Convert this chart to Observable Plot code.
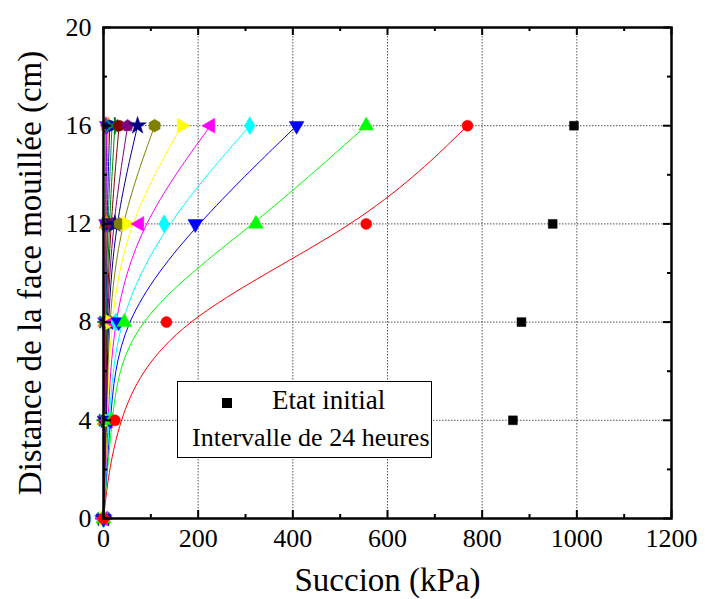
<!DOCTYPE html>
<html>
<head>
<meta charset="utf-8">
<script src="https://cdn.jsdelivr.net/npm/d3@7"></script>
<script src="https://cdn.jsdelivr.net/npm/@observablehq/plot@0.6"></script>
<style>
  html, body { margin: 0; padding: 0; background: #fff; }
  #wrap { position: relative; width: 705px; height: 599px; font-family: "Liberation Serif", "DejaVu Serif", serif; }
  #legend { position: absolute; left: 177px; top: 381px; width: 253px; height: 75px; border: 1.5px solid #000; background: #fff; }
  #legend .sq { position: absolute; left: 44px; top: 16px; width: 10px; height: 10px; background: #000; }
  #legend .t1 { position: absolute; left: 94px; top: 2px; font-size: 27px; line-height: 32px; white-space: nowrap; }
  #legend .t2 { position: absolute; left: 14px; top: 40px; font-size: 26px; line-height: 32px; white-space: nowrap; }
</style>
</head>
<body>
<div id="wrap"></div>
<script>
// ---- data ----
const depths = [0, 4, 8, 12, 16];            // cm
const initialDepths = [4, 8, 12, 16];
const initialState = [865, 883, 949, 994];    // kPa
// successive 24-hour intervals (suction in kPa at depths 0,4,8,12,16)
const day1  = [0, 24, 133, 555, 769];
const day2  = [0, 17, 44, 322, 555];
const day3  = [0, 14, 32, 194, 408];
const day4  = [0, 12, 26, 128, 309];
const day5  = [0, 10, 19, 76, 226];
const day6  = [0, 8, 14, 49, 165];
const day7  = [0, 7, 11, 34, 108];
const day8  = [0, 6, 9, 24, 72];
const day9  = [0, 5, 7, 19, 51];
const day10 = [0, 4, 6, 15, 33];
const day11 = [0, 3, 5, 12, 24];
const day12 = [0, 3, 4, 9, 18];
const day13 = [0, 2, 4, 7, 13];
const day14 = [0, 2, 3, 6, 10];
const day15 = [0, 2, 3, 5, 7];
const day16 = [0, 1, 2, 4, 5];
const seriesValues = [day1, day2, day3, day4, day5, day6, day7, day8, day9, day10, day11, day12, day13, day14, day15, day16];
const seriesColors = ["#FF0000", "#00FF00", "#0000FF", "#00FFFF", "#FF00FF", "#FFFF00", "#808000", "#000080",
                      "#800080", "#800000", "#008000", "#008080", "#0000A0", "#FF8000", "#8000FF", "#FF0080"];
const seriesSymbols = ["circle", "up", "down", "diamond", "left", "right", "hexagon", "star",
                       "pentagon", "circle", "plus", "times", "circle", "up", "down", "diamond"];
const xTicks = [0, 200, 400, 600, 800, 1000, 1200];
const xMinor = [100, 300, 500, 700, 900, 1100];
const yTicks = [0, 4, 8, 12, 16, 20];
const yMinor = [2, 6, 10, 14, 18];
const xGrid = [200, 400, 600, 800, 1000];
const yGrid = [4, 8, 12, 16];
const xTitle = "Succion (kPa)";
const yTitle = "Distance de la face mouillée (cm)";
const legendLabels = ["Etat initial", "Intervalle de 24 heures"];

// ---- custom symbols ----
const sqrt3 = Math.sqrt(3);
function triSym(rot) {
  return {
    draw(ctx, size) {
      const y = -Math.sqrt(size / (sqrt3 * 3));
      const pts = [[0, y * 2], [-sqrt3 * y, -y], [sqrt3 * y, -y]];
      const c = Math.cos(rot), s = Math.sin(rot);
      pts.forEach(([px, py], i) => {
        const X = px * c - py * s, Y = px * s + py * c;
        if (i === 0) ctx.moveTo(X, Y); else ctx.lineTo(X, Y);
      });
      ctx.closePath();
    }
  };
}
const pentagonSym = {
  draw(ctx, size) {
    const r = Math.sqrt(size / 2.38);
    for (let i = 0; i < 5; i++) {
      const a = -Math.PI / 2 + i * 2 * Math.PI / 5;
      const X = r * Math.cos(a), Y = r * Math.sin(a);
      if (i === 0) ctx.moveTo(X, Y); else ctx.lineTo(X, Y);
    }
    ctx.closePath();
  }
};
const symbolMap = {
  circle: "circle", diamond: "diamond", hexagon: "hexagon", star: "star", plus: "plus", times: "times",
  up: triSym(0), down: triSym(Math.PI), left: triSym(-Math.PI / 2), right: triSym(Math.PI / 2),
  pentagon: pentagonSym
};

// ---- layout ----
const W = 705, H = 599, mL = 103, mR = 34, mT = 27, mB = 81;
const fw = W - mL - mR, fh = H - mT - mB;
const majorLen = 8, minorLen = 4;

const marks = [];
// grid
marks.push(Plot.ruleX(xGrid, {x: d => d, stroke: "#555", strokeWidth: 1, strokeDasharray: "1.5,1.5"}));
marks.push(Plot.ruleY(yGrid, {y: d => d, stroke: "#555", strokeWidth: 1, strokeDasharray: "1.5,1.5"}));

// lines (B-spline through points) and markers
seriesValues.forEach((vals, i) => {
  const data = vals.map((v, j) => ({x: v, y: depths[j]}));
  marks.push(Plot.line(data, {x: "x", y: "y", curve: "basis", stroke: seriesColors[i], strokeWidth: 1}));
});
for (let i = seriesValues.length - 1; i >= 0; i--) {
  const data = seriesValues[i].map((v, j) => ({x: v, y: depths[j]}));
  const sym = symbolMap[seriesSymbols[i]];
  const isLine = seriesSymbols[i] === "plus" || seriesSymbols[i] === "times";
  marks.push(Plot.dot(data, {
    x: "x", y: "y", symbol: sym, r: 5.5,
    fill: isLine ? "none" : seriesColors[i],
    stroke: seriesColors[i], strokeWidth: isLine ? 2 : 0.5
  }));
}
// initial state squares
marks.push(Plot.dot(initialState.map((v, j) => ({x: v, y: initialDepths[j]})),
  {x: "x", y: "y", symbol: "square", r: 5, fill: "#000", stroke: "#000", strokeWidth: 0.5}));

// inward ticks on all four sides
marks.push(Plot.tickX(xTicks, {x: d => d, insetTop: fh - majorLen, strokeWidth: 2}));
marks.push(Plot.tickX(xTicks, {x: d => d, insetBottom: fh - majorLen, strokeWidth: 2}));
marks.push(Plot.tickX(xMinor, {x: d => d, insetTop: fh - minorLen, strokeWidth: 2}));
marks.push(Plot.tickX(xMinor, {x: d => d, insetBottom: fh - minorLen, strokeWidth: 2}));
marks.push(Plot.tickY(yTicks, {y: d => d, insetRight: fw - majorLen, strokeWidth: 2}));
marks.push(Plot.tickY(yTicks, {y: d => d, insetLeft: fw - majorLen, strokeWidth: 2}));
marks.push(Plot.tickY(yMinor, {y: d => d, insetRight: fw - minorLen, strokeWidth: 2}));
marks.push(Plot.tickY(yMinor, {y: d => d, insetLeft: fw - minorLen, strokeWidth: 2}));

// frame
marks.push(Plot.frame({stroke: "#000", strokeWidth: 2.5}));

// axes (labels only)
marks.push(Plot.axisX(xTicks, {tickSize: 0, tickPadding: 10, fontSize: 26, label: null, tickFormat: d3.format("d")}));
marks.push(Plot.axisY(yTicks, {tickSize: 0, tickPadding: 12, fontSize: 26, label: null, tickFormat: d3.format("d")}));

// titles
marks.push(Plot.text([xTitle], {text: d => d, frameAnchor: "bottom", dy: 62, fontSize: 33, lineAnchor: "middle", textAnchor: "middle"}));
marks.push(Plot.text([yTitle], {text: d => d, frameAnchor: "left", dx: -73, rotate: -90, fontSize: 33, lineAnchor: "middle", textAnchor: "middle"}));

const chart = Plot.plot({
  width: W, height: H,
  marginLeft: mL, marginRight: mR, marginTop: mT, marginBottom: mB,
  style: {fontFamily: "Liberation Serif, DejaVu Serif, serif", background: "#fff", color: "#000", overflow: "visible"},
  x: {domain: [0, 1200]},
  y: {domain: [0, 20]},
  marks
});

const wrap = document.getElementById("wrap");
wrap.appendChild(chart);

const legend = document.createElement("div");
legend.id = "legend";
legend.innerHTML = `<div class="sq"></div><div class="t1">${legendLabels[0]}</div><div class="t2">${legendLabels[1]}</div>`;
wrap.appendChild(legend);
</script>
</body>
</html>
